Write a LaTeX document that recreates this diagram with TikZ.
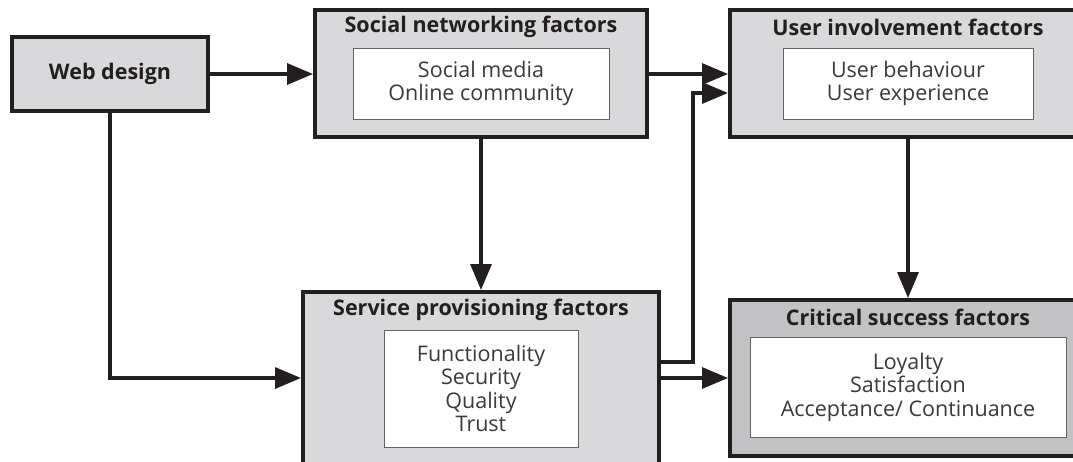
\documentclass[tikz,border=0pt]{standalone}
\usepackage{fontspec}
\setmainfont{Open Sans}
\usetikzlibrary{arrows.meta}
\definecolor{boxgray}{HTML}{D9D9DB}
\definecolor{darkgray2}{HTML}{C2C2C4}
\definecolor{ink}{HTML}{231F20}
\definecolor{txt}{HTML}{3A3A3A}
\tikzset{
  outerbox/.style={draw=ink, line width=4pt, fill=boxgray, inner sep=0pt},
  innerbox/.style={draw=ink!70, line width=1pt, fill=white, inner sep=0pt, align=center, text=txt, font=\fontsize{21.5}{23.5}\selectfont},
  titletext/.style={font=\bfseries\fontsize{21.5}{24}\selectfont, text=ink, inner sep=0pt},
  conn/.style={draw=ink, line width=3.3pt, -{Triangle[length=26pt,width=21pt]}},
}
\begin{document}
\begin{tikzpicture}[x=1pt,y=-1pt]
\useasboundingbox (0,0) rectangle (1073,461);
\clip (0,0) rectangle (1073,461);
% Web design
\node[outerbox, minimum width=196pt, minimum height=74pt, font=\bfseries\fontsize{21.5}{24}\selectfont, text=ink] (web) at (110,74) {Web design};
% Social networking
\node[outerbox, minimum width=332pt, minimum height=127pt] (sn) at (481,73.5) {};
\node[titletext] (snt) at (481,27) {Social networking factors};
\node[innerbox, minimum width=256pt, minimum height=71pt] (sni) at (481,83.5) {Social media\\Online community};
% User involvement
\node[outerbox, minimum width=356pt, minimum height=127pt] (ui) at (908,73.5) {};
\node[titletext] (uit) at (908,27) {User involvement factors};
\node[innerbox, minimum width=250pt, minimum height=71pt] (uii) at (908,83.5) {User behaviour\\User experience};
% Service provisioning
\node[outerbox, minimum width=356pt, minimum height=176pt] (sp) at (481,380) {};
\node[titletext] (spt) at (481,310) {Service provisioning factors};
\node[innerbox, minimum width=194pt, minimum height=117pt] (spi) at (481,388.5) {Functionality\\Security\\Quality\\Trust};
% Critical success
\node[outerbox, fill=darkgray2, minimum width=356pt, minimum height=156pt] (cs) at (908,378) {};
\node[titletext] (cst) at (908,317) {Critical success factors};
\node[innerbox, minimum width=316pt, minimum height=100pt] (csi) at (908,387) {Loyalty\\Satisfaction\\Acceptance/ Continuance};
% connectors
\coordinate (wd) at (110,378);
\coordinate (bend1) at (693,362);
\coordinate (bend2) at (693,93);
\draw[conn] (web.east) -- (web.east -| sn.west);
\draw[conn] (sn.east |- web.east) -- (ui.west |- web.east);
\draw[conn] (web.south) -- (wd) -- (wd -| sp.west);
\draw[conn] (sn.south) -- (sp.north);
\draw[conn] (ui.south) -- (cs.north);
\draw[conn] (sp.east |- bend1) -- (bend1) -- (bend2) -- (bend2 -| ui.west);
\draw[conn] (sp.east |- cs.west) -- (cs.west);
\end{tikzpicture}
\end{document}
